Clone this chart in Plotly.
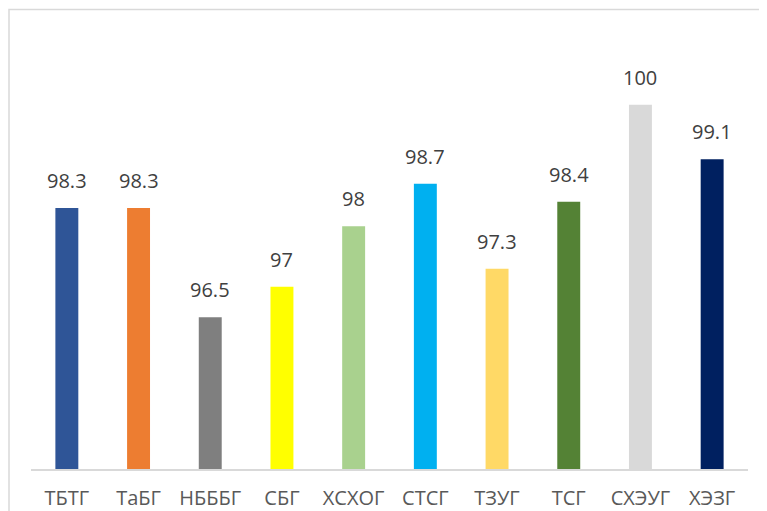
import plotly.graph_objects as go

categories = ["ТБТГ", "ТаБГ", "НБББГ", "СБГ", "ХСХОГ", "СТСГ", "ТЗУГ", "ТСГ", "СХЭУГ", "ХЭЗГ"]
values = [98.3, 98.3, 96.5, 97, 98, 98.7, 97.3, 98.4, 100, 99.1]
labels = ["98.3", "98.3", "96.5", "97", "98", "98.7", "97.3", "98.4", "100", "99.1"]
colors = ["#2F5597", "#ED7D31", "#7F7F7F", "#FFFF00", "#A9D18E",
          "#00B0F0", "#FFD966", "#548235", "#D9D9D9", "#002060"]

# page body has an 8px margin: figure starts at (8, 8) in the page
OFF = 8
W, H = 767 - 2 * OFF, 511 - OFF
L, R, T = 31 - OFF, (W + OFF) - 748, 44 - OFF
B = (H + OFF) - 469
pw, ph = W - L - R, H - T - B

fig = go.Figure(go.Bar(
    x=categories, y=values, marker=dict(color=colors, line=dict(width=0)),
    hoverinfo="x+y",
))

for c, v, t in zip(categories, values, labels):
    fig.add_annotation(x=c, y=v, text=t, showarrow=False, yanchor="bottom",
                       yshift=12, font=dict(family="Open Sans", size=20, color="#404040"))

# outer chart border (extends beyond the visible area on right/bottom)
fig.add_shape(type="rect", xref="paper", yref="paper",
              x0=(1 - L) / pw, x1=2.0, y0=-2.0, y1=(ph + T - 1.5) / ph,
              line=dict(color="#D9D9D9", width=1.5), fillcolor="rgba(0,0,0,0)", layer="below")

fig.update_layout(
    width=W, height=H,
    margin=dict(l=L, r=R, t=T, b=B, pad=0, autoexpand=False),
    plot_bgcolor="white", paper_bgcolor="white",
    bargap=0.68, showlegend=False,
    xaxis=dict(showline=True, linecolor="#D9D9D9", linewidth=1.5, showgrid=False,
               ticks="", ticklabelstandoff=10, automargin=False,
               tickfont=dict(family="Open Sans", size=20, color="#595959")),
    yaxis=dict(range=[94, 101], visible=False, showgrid=False, automargin=False),
)

fig.write_html("out.html")
